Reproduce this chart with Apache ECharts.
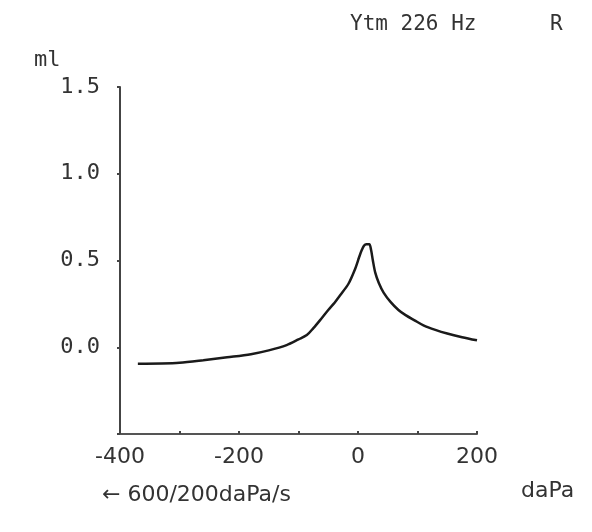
<!DOCTYPE html>
<html>
<head>
<meta charset="utf-8">
<script src="https://cdn.jsdelivr.net/npm/echarts@6/dist/echarts.min.js"></script>
<style>html,body{margin:0;padding:0;background:#fff;}#c{width:592px;height:532px;}</style>
</head>
<body>
<div id="c"></div>
<script>
// Pressure (daPa)
var pressure = [-370, -330, -300, -260, -220, -180, -150, -120, -100, -86, -75, -64, -50, -41, -30, -16, -5, 2, 6, 10, 14, 19, 22, 25, 29, 35, 43, 55, 68, 80, 95, 110, 130, 150, 175, 200];
// Admittance (ml)
var volume = [-0.095, -0.094, -0.09, -0.075, -0.058, -0.04, -0.018, 0.012, 0.045, 0.07, 0.11, 0.155, 0.215, 0.25, 0.30, 0.366, 0.45, 0.52, 0.557, 0.585, 0.594, 0.594, 0.56, 0.50, 0.43, 0.37, 0.315, 0.26, 0.215, 0.185, 0.155, 0.126, 0.10, 0.079, 0.058, 0.04];
var yTicks = [-0.5, 0, 0.5, 1.0, 1.5];
var xLabels = [-400, -200, 0, 200];

var data = pressure.map(function (p, i) { return [p, volume[i]]; });
var chart = echarts.init(document.getElementById('c'), null, {renderer: 'canvas'});
var mono = '"DejaVu Sans Mono", "Liberation Mono", monospace';
var sans = '"DejaVu Sans", sans-serif';
chart.setOption({
  animation: false,
  backgroundColor: '#fff',
  grid: {left: 120, right: 115, top: 87, bottom: 98, containLabel: false},
  xAxis: {
    type: 'value', min: -400, max: 200, interval: 100,
    splitLine: {show: false},
    axisLine: {onZero: false, lineStyle: {color: '#555', width: 2}},
    axisTick: {inside: true, length: 3, lineStyle: {color: '#444', width: 2}},
    axisLabel: {
      margin: 12, color: '#333', fontSize: 22, fontFamily: sans,
      formatter: function (v) { return xLabels.indexOf(v) >= 0 ? String(v) : ''; }
    }
  },
  yAxis: {
    type: 'value', min: -0.5, max: 1.5, interval: 0.5,
    splitLine: {show: false},
    axisLine: {onZero: false, lineStyle: {color: '#444', width: 2}},
    axisTick: {inside: false, length: 3, lineStyle: {color: '#444', width: 2}},
    axisLabel: {
      margin: 20, color: '#333', fontSize: 22, fontFamily: mono,
      formatter: function (v) { return (v < 0) ? '' : v.toFixed(1); }
    }
  },
  series: [{
    type: 'line', data: data, smooth: 0.3, showSymbol: false,
    lineStyle: {color: '#1a1a1a', width: 2.5}
  }],
  graphic: [
    {type: 'text', left: 350, top: 14, style: {text: 'Ytm 226 Hz', fill: '#333', font: '21px ' + mono}},
    {type: 'text', left: 550, top: 14, style: {text: 'R', fill: '#333', font: '21px ' + mono}},
    {type: 'text', left: 34, top: 49, style: {text: 'ml', fill: '#333', font: '22px ' + mono}},
    {type: 'text', left: 102, top: 484, style: {text: '← 600/200daPa/s', fill: '#333', font: '22px ' + sans}},
    {type: 'text', left: 521, top: 480, style: {text: 'daPa', fill: '#333', font: '22px ' + sans}}
  ]
});
</script>
</body>
</html>
